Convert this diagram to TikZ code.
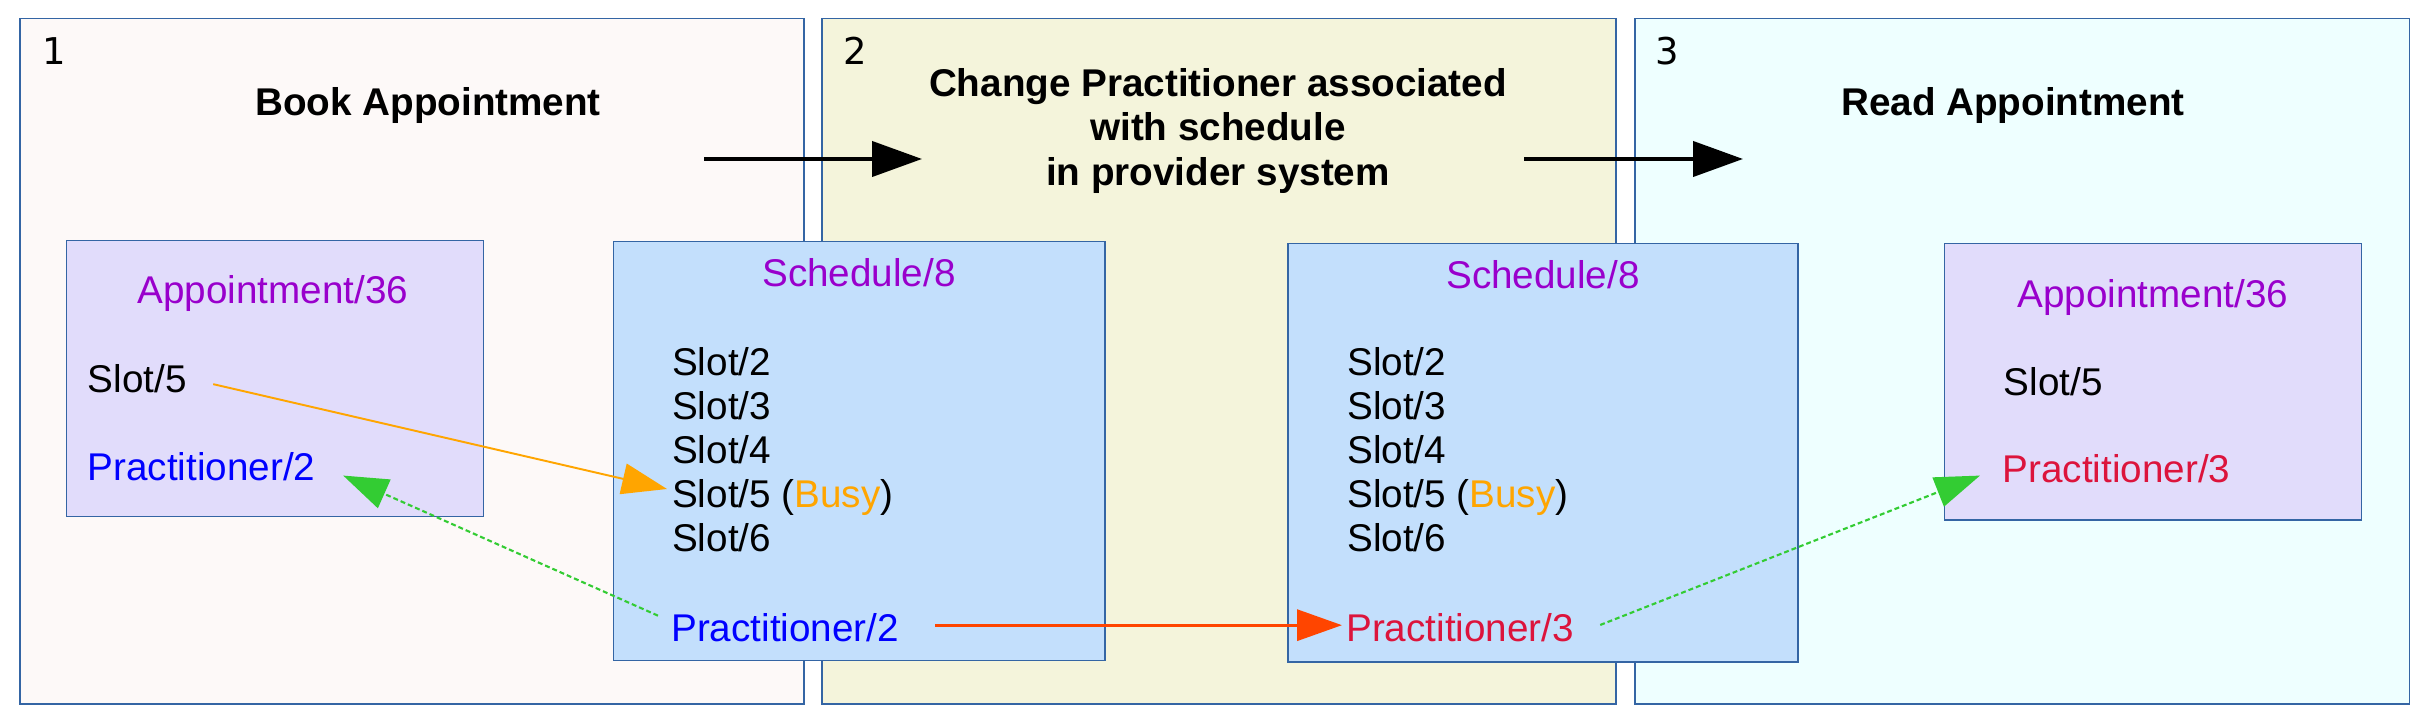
\documentclass[tikz,border=0pt]{standalone}
\usepackage{fontspec}
\setmainfont{Liberation Sans}
\newfontfamily\numfont{DejaVu Sans}
\usetikzlibrary{arrows.meta}
\definecolor{border}{HTML}{3465A4}
\definecolor{bookbg}{HTML}{FDF9F8}
\definecolor{changebg}{HTML}{F4F4DB}
\definecolor{readbg}{HTML}{EEFFFF}
\definecolor{apptbg}{HTML}{E1DCFB}
\definecolor{schedbg}{HTML}{C3DFFC}
\definecolor{res}{HTML}{9900CC}
\definecolor{prac2}{HTML}{0000FF}
\definecolor{prac3}{HTML}{DC143C}
\definecolor{busy}{HTML}{FFA500}
\definecolor{reassign}{HTML}{FF4500}
\definecolor{linkgreen}{HTML}{33CC33}
\begin{document}
\begin{tikzpicture}[
    box/.style={draw=border, line width=0.3pt},
    txt/.style={inner sep=0pt, font=\fontsize{11}{12.6}\selectfont},
    title/.style={txt, font=\fontsize{11}{12.6}\selectfont\bfseries},
    num/.style={inner sep=0pt, font=\fontsize{10.5}{12}\numfont},
    flow/.style={line width=1.2pt, -{Triangle[length=0.5cm,width=0.35cm]}},
    link/.style={-{Triangle[length=0.45cm,width=0.31cm]}},
    ref/.style={link, linkgreen, line width=0.6pt, dash pattern=on 1.4pt off 0.85pt}
]
    \useasboundingbox (0,0) rectangle (24.25,7.25);
    \draw[box, fill=bookbg] (0.20,0.21) rectangle (8.04,7.065);
    \draw[box, fill=changebg] (8.22,0.21) rectangle (16.16,7.065);
    \draw[box, fill=readbg] (16.35,0.21) rectangle (24.09,7.065);
    \node[num] (n1) at (0.54,6.74) {1};
    \node[num] (n2) at (8.555,6.74) {2};
    \node[num] (n3) at (16.67,6.74) {3};
    \node[title, anchor=base] (book) at (4.28,6.094) {Book Appointment};
    \node[title, anchor=north, align=center] (change) at (12.18,6.57) {Change Practitioner associated\\with schedule\\in provider system};
    \node[title, anchor=base] (read) at (20.13,6.094) {Read Appointment};
    \coordinate (f1s) at (7.04,5.66);
    \coordinate (f1e) at (9.22,5.66);
    \coordinate (f2s) at (15.24,5.66);
    \coordinate (f2e) at (17.43,5.66);
    \draw[flow] (f1s) -- (f1e);
    \draw[flow] (f2s) -- (f2e);
    \draw[box, fill=apptbg] (0.664,2.081) rectangle (4.838,4.846);
    \draw[box, fill=schedbg] (6.135,0.648) rectangle (11.05,4.837);
    \draw[box, fill=schedbg] (12.88,0.63) rectangle (17.98,4.814);
    \draw[box, fill=apptbg] (19.447,2.05) rectangle (23.616,4.814);
    \node[txt, text=res, anchor=base] (apptL) at (2.73,4.213) {Appointment/36};
    \node[txt, anchor=base west] (apptLslot) at (0.87,3.32) {Slot/5};
    \node[txt, text=prac2, anchor=base west] (apptLprac) at (0.87,2.44) {Practitioner/2};
    \node[txt, text=res, anchor=base] (schedL) at (8.59,4.38) {Schedule/8};
    \node[txt, text=res, anchor=base] (schedR) at (15.43,4.36) {Schedule/8};
    \foreach \s/\x in {L/6.715, R/13.465}
        \foreach \n [count=\i] in {2,...,6}
            \node[txt, anchor=base west] (slot\s\n) at (\x,{3.49-0.44*(\i-1)}) {Slot/\n\ifnum\n=5\ (\textcolor{busy}{Busy})\fi};
    \node[txt, text=prac2, anchor=base west] (schedLprac) at (6.706,0.835) {Practitioner/2};
    \node[txt, text=prac3, anchor=base west] (schedRprac) at (13.455,0.835) {Practitioner/3};
    \node[txt, text=res, anchor=base] (apptR) at (21.526,4.176) {Appointment/36};
    \node[txt, anchor=base west] (apptRslot) at (20.03,3.297) {Slot/5};
    \node[txt, text=prac3, anchor=base west] (apptRprac) at (20.02,2.42) {Practitioner/3};
    \draw[link, busy, line width=0.55pt] ([xshift=0.26cm,yshift=-0.05cm]apptLslot.east) -- ([xshift=-0.045cm,yshift=0.09cm]slotL5.west);
    \draw[link, reassign, line width=0.95pt] ([xshift=0.355cm,yshift=0.025cm]schedLprac.east) -- ([xshift=-0.035cm,yshift=0.025cm]schedRprac.west);
    \draw[ref] ([xshift=-0.126cm,yshift=0.12cm]schedLprac.west) -- ([xshift=0.27cm,yshift=-0.084cm]apptLprac.east);
    \draw[ref] ([xshift=0.255cm,yshift=0.027cm]schedRprac.east) -- ([xshift=-0.22cm,yshift=-0.064cm]apptRprac.west);
\end{tikzpicture}
\end{document}
